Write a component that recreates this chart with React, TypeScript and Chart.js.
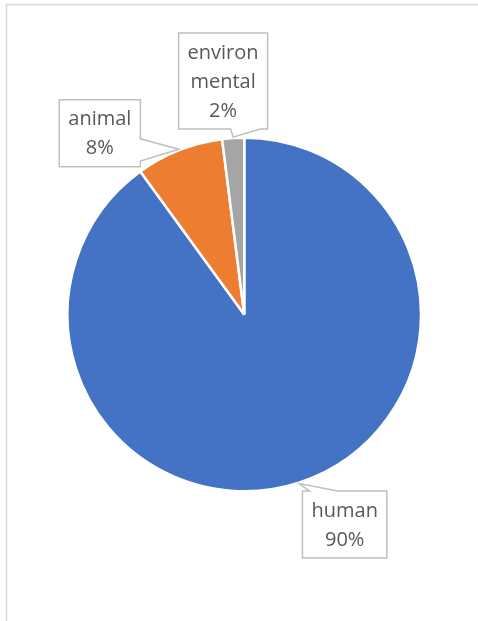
import React, { useEffect, useRef } from "react";
import { Chart, registerables } from "chart.js";

Chart.register(...registerables);

// ---- data ----
const categories: string[] = ["human", "animal", "environmental"];
const values: number[] = [90, 8, 2];
const labelTextLines: string[][] = [["human"], ["animal"], ["environ", "mental"]];

// ---- styles / placement (kept separate from data) ----
const sliceColors = ["#4472C4", "#ED7D31", "#A5A5A5"];
// callout box centre offset from the slice's outer-edge anchor point
const calloutOffsets: [number, number][] = [
  [45.5, 41],
  [-79, -16],
  [-10, -56],
];
const FONT = "20px 'Open Sans', 'Noto Sans', sans-serif";
const LINE_H = 29;
const PAD_X = 9;
const PAD_Y = 4.5;

const framePlugin = {
  id: "frame",
  beforeDraw(chart: any) {
    const ctx = chart.ctx;
    ctx.save();
    ctx.strokeStyle = "#D9D9D9";
    ctx.lineWidth = 1.5;
    ctx.strokeRect(6.5, 4.5, 800, 900);
    ctx.restore();
  },
};

const calloutPlugin = {
  id: "callouts",
  afterDatasetsDraw(chart: any) {
    const ctx = chart.ctx;
    const meta = chart.getDatasetMeta(0);
    const total = values.reduce((a, b) => a + b, 0);
    ctx.save();
    ctx.font = FONT;
    meta.data.forEach((arc: any, i: number) => {
      const { x, y, startAngle, endAngle, outerRadius } = arc.getProps(
        ["x", "y", "startAngle", "endAngle", "outerRadius"],
        true
      );
      const mid = (startAngle + endAngle) / 2;
      const tipX = x + Math.cos(mid) * (outerRadius + 1);
      const tipY = y + Math.sin(mid) * (outerRadius + 1);
      const pct = Math.round((values[i] / total) * 100) + "%";
      const lines = [...labelTextLines[i], pct];
      const textW = Math.max(...lines.map((l) => ctx.measureText(l).width));
      const w = textW + PAD_X * 2;
      const h = lines.length * LINE_H + PAD_Y * 2;
      const cx = tipX + calloutOffsets[i][0];
      const cy = tipY + calloutOffsets[i][1];
      const x0 = cx - w / 2;
      const y0 = cy - h / 2;
      const x1 = x0 + w;
      const y1 = y0 + h;
      const dx = tipX - cx;
      const dy = tipY - cy;
      let side: string;
      if (Math.abs(dx) / w > Math.abs(dy) / h) side = dx < 0 ? "left" : "right";
      else side = dy < 0 ? "top" : "bottom";

      ctx.beginPath();
      ctx.moveTo(x0, y0);
      if (side === "top") {
        const a = dx < 0 ? w / 12 : (7 * w) / 12;
        const b = a + (4 * w) / 12;
        ctx.lineTo(x0 + a, y0);
        ctx.lineTo(tipX, tipY);
        ctx.lineTo(x0 + b, y0);
      }
      ctx.lineTo(x1, y0);
      if (side === "right") {
        const a = dy < 0 ? h / 12 : (7 * h) / 12;
        const b = a + (4 * h) / 12;
        ctx.lineTo(x1, y0 + a);
        ctx.lineTo(tipX, tipY);
        ctx.lineTo(x1, y0 + b);
      }
      ctx.lineTo(x1, y1);
      if (side === "bottom") {
        const a = dx < 0 ? w / 12 : (7 * w) / 12;
        const b = a + (4 * w) / 12;
        ctx.lineTo(x0 + b, y1);
        ctx.lineTo(tipX, tipY);
        ctx.lineTo(x0 + a, y1);
      }
      ctx.lineTo(x0, y1);
      if (side === "left") {
        const a = dy < 0 ? h / 12 : (7 * h) / 12;
        const b = a + (4 * h) / 12;
        ctx.lineTo(x0, y0 + b);
        ctx.lineTo(tipX, tipY);
        ctx.lineTo(x0, y0 + a);
      }
      ctx.closePath();
      ctx.fillStyle = "#FFFFFF";
      ctx.fill();
      ctx.strokeStyle = "#BFBFBF";
      ctx.lineWidth = 1.5;
      ctx.stroke();

      ctx.fillStyle = "#595959";
      ctx.textAlign = "center";
      ctx.textBaseline = "middle";
      lines.forEach((l, j) => {
        ctx.fillText(l, cx, y0 + PAD_Y + LINE_H * (j + 0.5) + 1);
      });
    });
    ctx.restore();
  },
};

export default function App() {
  const ref = useRef<HTMLCanvasElement | null>(null);
  useEffect(() => {
    if (!ref.current) return;
    const chart = new Chart(ref.current, {
      type: "pie",
      data: {
        labels: categories,
        datasets: [
          {
            data: values,
            backgroundColor: sliceColors,
            borderColor: "#FFFFFF",
            borderWidth: 2.5,
          },
        ],
      },
      options: {
        animation: false,
        responsive: true,
        maintainAspectRatio: false,
        layout: { padding: { left: 66, right: 55.5, top: 136.5, bottom: 128.5 } },
        plugins: {
          legend: { display: false },
          tooltip: { enabled: false },
        },
      },
      plugins: [framePlugin, calloutPlugin],
    });
    return () => chart.destroy();
  }, []);
  return (
    <div style={{ position: "absolute", left: 0, top: 0, width: 478, height: 621, background: "#fff" }}>
      <canvas ref={ref} />
    </div>
  );
}
